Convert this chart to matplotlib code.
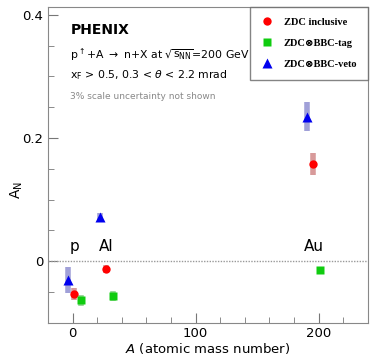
import matplotlib.pyplot as plt
from matplotlib.ticker import MultipleLocator

# data (A_N vs atomic mass number, points shifted in A for visibility)
incl_A = [1.4, 27.4, 195.7]
incl_AN = [-0.053, -0.0125, 0.158]
incl_err = [0.010, 0.006, 0.018]

tag_A = [6.7, 32.5, 200.8]
tag_AN = [-0.063, -0.057, -0.0145]
tag_err = [0.009, 0.008, 0.006]

veto_A = [-3.5, 22.6, 190.5]
veto_AN = [-0.031, 0.072, 0.235]
veto_err = [0.021, 0.006, 0.024]

nucleus_names = ["p", "Al", "Au"]
nucleus_A = [1.6, 27, 196]

fig = plt.figure(figsize=(3.75, 3.62), dpi=100)
ax = fig.add_axes([0.128, 0.108, 0.853, 0.873])

# error bands (thick, faded) then markers
ax.errorbar(incl_A, incl_AN, yerr=incl_err, fmt="none", ecolor="#c87070", elinewidth=4, alpha=0.7, capsize=0)
ax.errorbar(tag_A, tag_AN, yerr=tag_err, fmt="none", ecolor="#70c870", elinewidth=4, alpha=0.7, capsize=0)
ax.errorbar(veto_A, veto_AN, yerr=veto_err, fmt="none", ecolor="#7878c8", elinewidth=4, alpha=0.7, capsize=0)

ax.plot(incl_A, incl_AN, "o", color="#ff0000", ms=6, mec="none", label="ZDC inclusive")
ax.plot(tag_A, tag_AN, "s", color="#10cc10", ms=6, mec="none", label="ZDC\u2297BBC-tag")
ax.plot(veto_A, veto_AN, "^", color="#0000ee", ms=6.5, mec="none", label="ZDC\u2297BBC-veto")

ax.axhline(0, color="#999999", lw=1, ls=(0, (1, 1)))

for name, a in zip(nucleus_names, nucleus_A):
    ax.text(a, 0.012, name, fontsize=11, ha="center", va="bottom")

ax.set_xlim(-20, 240)
ax.set_ylim(-0.1, 0.413)
ax.xaxis.set_major_locator(MultipleLocator(100))
ax.xaxis.set_minor_locator(MultipleLocator(20))
ax.yaxis.set_major_locator(MultipleLocator(0.2))
ax.yaxis.set_minor_locator(MultipleLocator(0.05))
ax.yaxis.set_major_formatter(plt.FuncFormatter(lambda v, p: "0" if abs(v) < 1e-9 else f"{v:.1f}"))
ax.tick_params(which="both", direction="in", color="#777777", labelsize=9.5)
ax.tick_params(which="major", length=7)
ax.tick_params(which="minor", length=4)
for s in ax.spines.values():
    s.set_color("#888888")
ax.tick_params(axis="x", pad=3)

ax.set_xlabel(r"$A$ (atomic mass number)", fontsize=9.5, labelpad=1)
ax.set_ylabel(r"A$_\mathregular{N}$", fontsize=10)
ax.yaxis.set_label_coords(-0.072, 0.42)

ax.text(0.07, 0.915, "PHENIX", transform=ax.transAxes, fontsize=10, fontweight="bold")
ax.text(0.07, 0.835, r"p$^{\uparrow}$+A $\rightarrow$ n+X at $\sqrt{\mathregular{s_{NN}}}$=200 GeV",
        transform=ax.transAxes, fontsize=7.8)
ax.text(0.07, 0.775, r"x$_\mathregular{F}$ > 0.5, 0.3 < $\theta$ < 2.2 mrad", transform=ax.transAxes, fontsize=7.8)
ax.text(0.07, 0.71, "3% scale uncertainty not shown", transform=ax.transAxes, fontsize=6.5, color="#888888")

leg = ax.legend(loc="upper right", bbox_to_anchor=(1.0, 1.0), borderaxespad=0, frameon=True,
                fancybox=False, edgecolor="#666666", handletextpad=1.0, labelspacing=1.15,
                borderpad=1.0, handlelength=1.3,
                prop={"family": ["Liberation Serif", "DejaVu Serif"], "weight": "bold", "size": 7.5})
leg.get_frame().set_linewidth(1)

fig.savefig("out.png", dpi=100)
